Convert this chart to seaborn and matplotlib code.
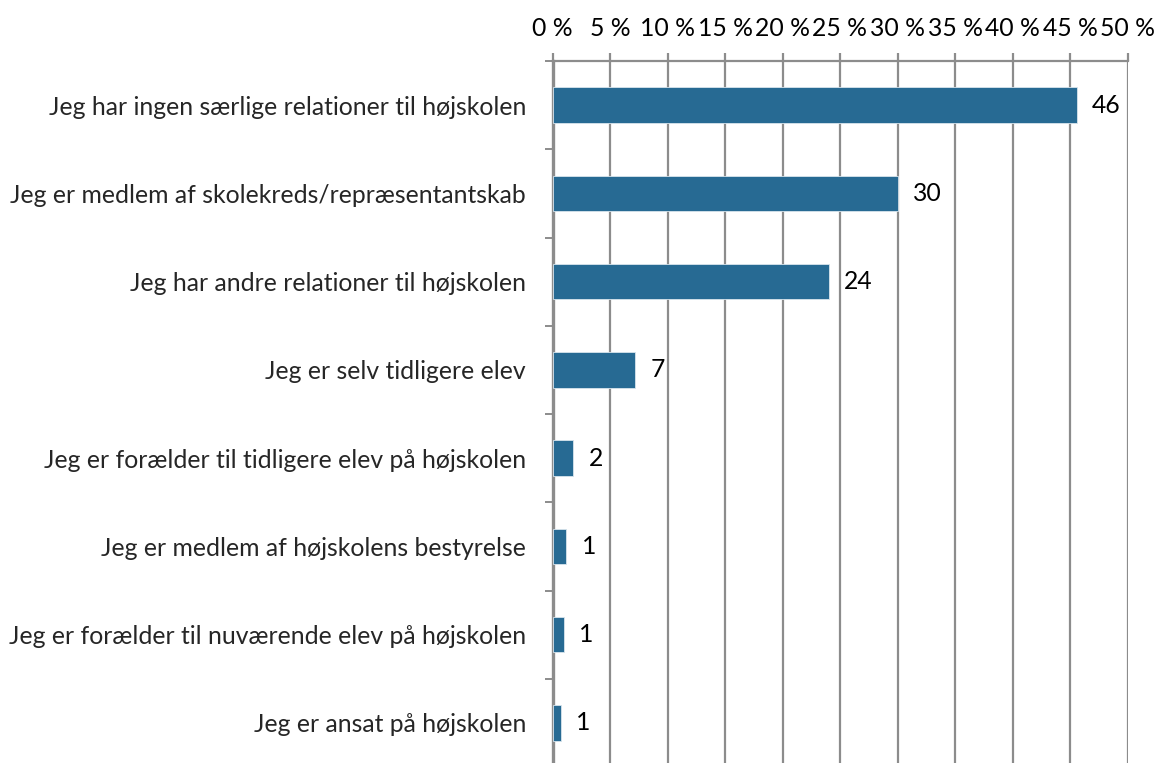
import numpy as np
import pandas as pd
import matplotlib
matplotlib.use('Agg')
import matplotlib.pyplot as plt
from matplotlib.ticker import FixedLocator
import seaborn as sns

# data
categories = [
    'Jeg har ingen særlige relationer til højskolen',
    'Jeg er medlem af skolekreds/repræsentantskab',
    'Jeg har andre relationer til højskolen',
    'Jeg er selv tidligere elev',
    'Jeg er forælder til tidligere elev på højskolen',
    'Jeg er medlem af højskolens bestyrelse',
    'Jeg er forælder til nuværende elev på højskolen',
    'Jeg er ansat på højskolen',
]
values = [45.6, 30.0, 24.0, 7.2, 1.8, 1.2, 1.0, 0.7]
value_labels = ['46', '30', '24', '7', '2', '1', '1', '1']
x_ticks = [0, 5, 10, 15, 20, 25, 30, 35, 40, 45, 50]

BAR = '#276A93'
GRID = '#8C8C8C'
FS = 17.8

sns.set_theme(style='white')
plt.rcParams['font.family'] = ['Lato', 'DejaVu Sans']

df = pd.DataFrame({'cat': categories, 'val': values})

fig = plt.figure(figsize=(11.56, 7.63), dpi=100)
ax = fig.add_axes([552.5/1156, -4/763, 575/1156, 706/763])

sns.barplot(data=df, x='val', y='cat', color=BAR, saturation=1, width=0.4,
            orient='h', ax=ax, zorder=3, edgecolor='#D8E4EC', linewidth=0.6)

ax.set_xlim(0, 50)
ax.set_ylim(len(categories) - 0.5, -0.5)
ax.xaxis.tick_top()
ax.set_xticks(x_ticks)
ax.set_xticklabels([f'{t} %' for t in x_ticks])
ax.grid(axis='x', color=GRID, linewidth=1.6, zorder=0)
ax.set_axisbelow(True)
ax.tick_params(axis='x', which='major', top=True, bottom=False, length=6,
               width=1.6, color=GRID, labelsize=FS, pad=9, labelcolor='black')
ax.tick_params(axis='y', which='major', length=0, labelsize=FS, pad=19)
ax.yaxis.set_minor_locator(FixedLocator(np.arange(-0.5, len(categories), 1.0)))
ax.tick_params(axis='y', which='minor', left=True, length=6, width=1.4, color=GRID)
ax.set_xlabel('')
ax.set_ylabel('')

for s in ['right', 'bottom']:
    ax.spines[s].set_visible(False)
ax.spines['left'].set_color(GRID)
ax.spines['left'].set_linewidth(2.4)
ax.spines['top'].set_color(GRID)
ax.spines['top'].set_linewidth(1.6)

for i, (v, lab) in enumerate(zip(values, value_labels)):
    ax.annotate(lab, xy=(v, i), xytext=(11, 0), textcoords='offset points',
                ha='left', va='center', fontsize=FS, color='black')

fig.savefig('out.png', dpi=100)
